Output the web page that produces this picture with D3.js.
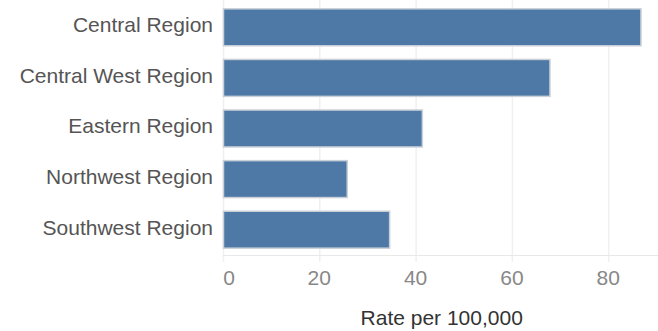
<!DOCTYPE html>
<html>
<head>
<meta charset="utf-8">
<script src="https://cdn.jsdelivr.net/npm/d3@7"></script>
<style>
  body { margin: 0; background: #fff; }
  #chart { width: 658px; height: 331px; }
</style>
</head>
<body>
<div id="chart"></div>
<script>
const regions = ["Central Region", "Central West Region", "Eastern Region", "Northwest Region", "Southwest Region"];
const rates = [86.7, 67.8, 41.3, 25.7, 34.5];
const xTicks = [0, 20, 40, 60, 80];
const xTitle = "Rate per 100,000";

const w = 658, h = 331;
const left = 223, plotBottom = 255;
const font = "'Liberation Sans', Arial, sans-serif";
const fs = 21;

const svg = d3.select("#chart").append("svg")
  .attr("width", w).attr("height", h);

const x = d3.scaleLinear().domain([0, 90]).range([left, left + 4.815 * 90]);
const y = d3.scaleBand().domain(regions).range([2, plotBottom])
  .paddingInner(0.27).paddingOuter(0.135);

// gridlines + tick marks
svg.append("g")
  .selectAll("line")
  .data(xTicks)
  .enter().append("line")
  .attr("x1", d => x(d) + 0.5).attr("x2", d => x(d) + 0.5)
  .attr("y1", 0).attr("y2", plotBottom + 7)
  .attr("stroke", "#f0f0f0").attr("stroke-width", 1.5);

// baseline
svg.append("line")
  .attr("x1", left).attr("x2", w)
  .attr("y1", plotBottom + 0.5).attr("y2", plotBottom + 0.5)
  .attr("stroke", "#e8e8e8");

// bars
svg.selectAll("rect.bar")
  .data(regions)
  .enter().append("rect")
  .attr("class", "bar")
  .attr("x", x(0) + 0.5)
  .attr("y", d => y(d))
  .attr("width", (d, i) => x(rates[i]) - x(0))
  .attr("height", y.bandwidth())
  .attr("fill", "#4e79a7")
  .attr("stroke", "#c9d0d8")
  .attr("stroke-width", 1.5);

// category labels
svg.selectAll("text.cat")
  .data(regions)
  .enter().append("text")
  .attr("class", "cat")
  .attr("x", 213)
  .attr("y", d => y(d) + y.bandwidth() / 2 - 2.5)
  .attr("dy", "0.35em")
  .attr("text-anchor", "end")
  .attr("font-family", font)
  .attr("font-size", fs)
  .attr("fill", "#555")
  .text(d => d);

// tick labels
svg.selectAll("text.tick")
  .data(xTicks)
  .enter().append("text")
  .attr("class", "tick")
  .attr("x", d => d === 0 ? x(d) + 6 : x(d))
  .attr("y", 278)
  .attr("dy", "0.35em")
  .attr("text-anchor", "middle")
  .attr("font-family", font)
  .attr("font-size", fs)
  .attr("fill", "#888")
  .text(d => d);

svg.append("text")
  .attr("x", (361.7 + 521.7) / 2)
  .attr("y", 318)
  .attr("dy", "0.35em")
  .attr("text-anchor", "middle")
  .attr("font-family", font)
  .attr("font-size", fs)
  .attr("fill", "#333")
  .text(xTitle);
</script>
</body>
</html>
